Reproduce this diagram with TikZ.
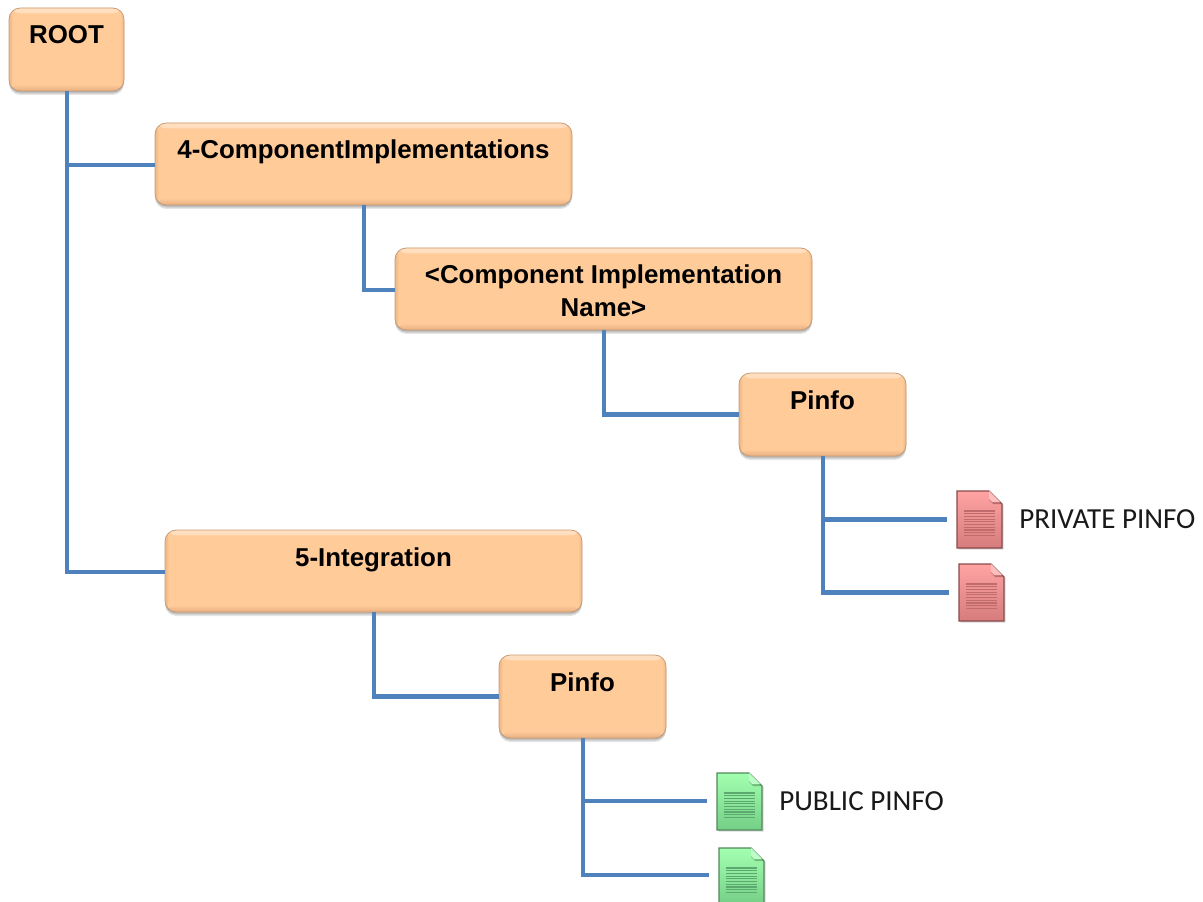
\documentclass[tikz,border=0pt]{standalone}
\usepackage{fontspec}
\setmainfont{Liberation Sans}
\newfontfamily\labelfont{Carlito}
\definecolor{boxfill}{HTML}{FFCB99}
\definecolor{boxlight}{HTML}{FFDFC0}
\definecolor{boxdark}{HTML}{E6AE80}
\definecolor{boxedge}{HTML}{C99C74}
\definecolor{linkblue}{HTML}{4F81BD}
\definecolor{redlight}{HTML}{FFA3A3}
\definecolor{reddark}{HTML}{D67C7C}
\definecolor{rededge}{HTML}{8A4A4A}
\definecolor{redline}{HTML}{C06C6C}
\definecolor{greenlight}{HTML}{A3FFB0}
\definecolor{greendark}{HTML}{74CF86}
\definecolor{greenedge}{HTML}{4F8A5A}
\definecolor{greenline}{HTML}{5CA970}
\tikzset{
  treebox/.style={
    rectangle, rounded corners=8.5pt, inner sep=0pt, draw=boxedge, line width=0.6pt, fill=boxfill,
    preaction={fill=black,opacity=.12,transform canvas={yshift=-1pt}},
    preaction={fill=black,opacity=.12,transform canvas={yshift=-2pt}},
    preaction={fill=black,opacity=.10,transform canvas={yshift=-3pt}},
    path picture={
      \shade[top color=boxlight,bottom color=boxfill]
        (path picture bounding box.north west) rectangle ([yshift=-4pt]path picture bounding box.north east);
      \shade[top color=boxfill,bottom color=boxdark]
        ([yshift=5pt]path picture bounding box.south west) rectangle (path picture bounding box.south east);
      \shade[left color=boxdark,right color=boxfill,opacity=.7]
        (path picture bounding box.south west) rectangle ([xshift=3pt]path picture bounding box.north west);
      \shade[left color=boxfill,right color=boxdark,opacity=.7]
        ([xshift=-3pt]path picture bounding box.south east) rectangle (path picture bounding box.north east);
    }},
  link/.style={draw=linkblue, line width=3.4pt, transform canvas={xshift=.5pt}},
  doclink/.style={link, shorten >=7.5pt},
  docanchor/.style={rectangle, inner sep=0pt, minimum width=33.75pt, minimum height=42.75pt},
  doclabel/.style={anchor=west, inner sep=0pt, font=\labelfont\fontsize{21.8}{26}\selectfont, text=black!90}
}
% name, x0, y0, x1, y1, text
\newcommand{\boxnode}[6]{%
  \node[treebox, minimum width={(#4-#2)*0.75pt}, minimum height={(#5-#3)*0.75pt}] (#1) at ({(#2+#4)/2},{(#3+#5)/2})
    {\parbox[c][\dimexpr #5pt*3/4-#3pt*3/4\relax][t]{\dimexpr #4pt*3/4-#2pt*3/4\relax}{\centering\fontsize{19.4}{24}\selectfont\bfseries\rule{0pt}{27pt}#6\par}};%
}
% name, x, y, light, dark, edge, line
\newcommand{\docicon}[7]{%
  \begin{scope}[shift={(#2,#3)}]
    \node[docanchor] (#1) at (22.5,28.5) {};
    \fill[black,opacity=.15] (1.5,1.5) -- (33,1.5) -- (46.5,14) -- (46.5,58.5) -- (1.5,58.5) -- cycle;
    \shade[shading angle=-45, top color=#4, bottom color=#5, draw=#6, line width=0.8pt]
      (0,0) -- (32,0) -- (45,13) -- (45,57) -- (0,57) -- cycle;
    \fill[#6,opacity=.55] (32,0) -- (45,13) -- (36,13) -- (32,9) -- cycle;
    \fill[#4!70!white] (32,0) -- (43,11) -- (35,11) -- (32,8) -- cycle;
    \foreach \ly in {20,22.7,...,46}
      \draw[#7, line width=0.9pt] (7,\ly) -- (38,\ly);
  \end{scope}%
}
\begin{document}
\begin{tikzpicture}[x=0.75pt,y=-0.75pt]
  \useasboundingbox (0,0) rectangle (1203,902);
  \clip (0,0) rectangle (1203,902);
  \boxnode{root}{9}{8}{124}{91}{ROOT}
  \boxnode{impls}{155}{123}{572}{205}{4-ComponentImplementations}
  \boxnode{implname}{395}{248}{812}{330}{<Component Implementation\\Name>}
  \boxnode{pinfoa}{739}{373}{906}{456}{Pinfo}
  \boxnode{integ}{165}{530}{582}{612}{5-Integration}
  \boxnode{pinfob}{499}{655}{666}{738}{Pinfo}
  \docicon{reda}{957}{491}{redlight}{reddark}{rededge}{redline}
  \docicon{redb}{959}{564}{redlight}{reddark}{rededge}{redline}
  \docicon{greena}{717}{773}{greenlight}{greendark}{greenedge}{greenline}
  \docicon{greenb}{719}{848}{greenlight}{greendark}{greenedge}{greenline}
  \node[doclabel] (privlabel) at (1019,519) {PRIVATE PINFO};
  \node[doclabel] (publabel) at (779,801) {PUBLIC PINFO};
  \draw[link] (root.south) |- ([yshift=-0.75pt]impls.west);
  \draw[link] (root.south) |- ([yshift=-0.75pt]integ.west);
  \draw[link] (impls.south) |- ([yshift=-0.75pt]implname.west);
  \draw[link] (implname.south) |- (pinfoa.west);
  \draw[link] (integ.south) |- (pinfob.west);
  \draw[doclink] (pinfoa.south) |- (reda.west);
  \draw[doclink] (pinfoa.south) |- (redb.west);
  \draw[doclink] (pinfob.south) |- ([yshift=0.4pt]greena.west);
  \draw[doclink] (pinfob.south) |- ([yshift=1.1pt]greenb.west);
\end{tikzpicture}
\end{document}
